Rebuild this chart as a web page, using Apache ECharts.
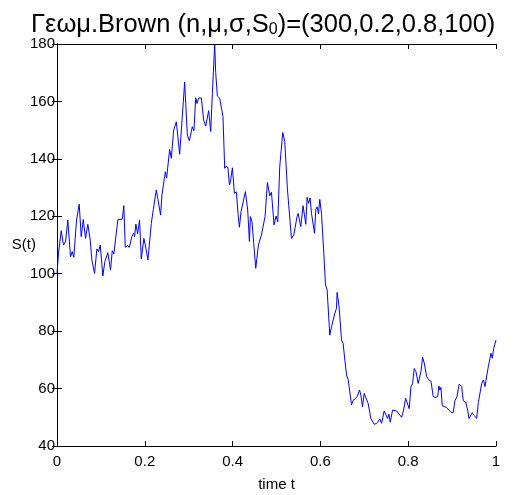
<!DOCTYPE html>
<html>
<head>
<meta charset="utf-8">
<script src="https://cdn.jsdelivr.net/npm/echarts@6/dist/echarts.min.js"></script>
<style>html,body{margin:0;padding:0;background:#fff;}#c{width:515px;height:495px;}</style>
</head>
<body>
<div id="c"></div>
<script>
// time values
var times = [0,0.0034,0.0096,0.0148,0.0194,0.0246,0.0308,0.0347,0.0383,0.0445,0.0506,0.0552,0.0598,0.065,0.0702,0.0757,0.0794,0.0855,0.0908,0.0946,0.0985,0.1044,0.109,0.1129,0.1158,0.122,0.1259,0.1295,0.1334,0.1387,0.1425,0.1487,0.1523,0.1555,0.1601,0.1647,0.1706,0.1745,0.1767,0.1797,0.1836,0.1881,0.192,0.1979,0.2025,0.2071,0.2116,0.2148,0.2194,0.2262,0.2299,0.2344,0.236,0.239,0.2429,0.2468,0.2497,0.2527,0.2566,0.2604,0.2657,0.268,0.2718,0.2794,0.2832,0.2908,0.2969,0.3015,0.3083,0.312,0.3159,0.3188,0.3227,0.3288,
0.3341,0.3387,0.3416,0.3455,0.3501,0.3539,0.3592,0.3615,0.3653,0.3706,0.3745,0.3781,0.382,0.3859,0.3895,0.3927,0.395,0.3995,0.4041,0.4087,0.4123,0.4155,0.4192,0.4237,0.4292,0.4344,0.4383,0.4406,0.4442,0.4481,0.4527,0.4588,0.4618,0.4657,0.4693,0.4739,0.4794,0.4846,0.4885,0.4944,0.499,0.5029,0.5074,0.5143,0.5188,0.525,0.5279,0.5341,0.5393,0.5432,0.5469,0.5492,0.5553,0.5605,0.5644,0.5667,0.5697,0.5729,0.5765,0.5797,0.5827,0.5866,0.5895,0.5925,0.5957,0.5986,0.6025,0.6078,0.6116,0.6153,0.6214,0.6253,0.629,0.6329,0.6367,0.6381,0.6426,0.6481,0.6518,0.6557,
0.6595,0.6632,0.6709,0.6746,0.68,0.6837,0.686,0.6892,0.6921,0.696,0.6997,0.7035,0.7088,0.7149,0.7188,0.7225,0.728,0.7316,0.7355,0.7394,0.7453,0.7485,0.753,0.756,0.759,0.7644,0.7681,0.7736,0.7772,0.785,0.7895,0.7941,0.7986,0.8023,0.8062,0.81,0.8137,0.8176,0.8228,0.829,0.8328,0.8365,0.842,0.8472,0.8518,0.857,0.8625,0.8671,0.87,0.8723,0.8746,0.8776,0.8821,0.8876,0.8928,0.8974,0.9026,0.9065,0.911,0.9163,0.9218,0.9255,0.9309,0.9355,0.9384,0.943,0.946,0.9505,0.956,0.9597,0.9635,0.9674,0.9711,0.975,0.9788,0.9825,0.9863,0.9886,0.9916,0.9948,1.0];
// S(t) values
var values = [100,107.1,115,110,111.1,118.7,105.9,107.7,105.7,118.7,124.2,112.9,118.9,112.3,117.2,111.7,104.8,100.1,108.6,107.7,110,99.2,104.2,104,107.3,101.3,108,106.9,107.1,118.9,119.4,119,123.7,109.2,109.8,109.2,112.9,114.2,112.9,117.3,113.9,118.7,105.1,112.3,108.9,104.8,104.5,117.5,122.4,129.2,125.9,125.7,120.4,127.4,128,135.5,133.3,133.8,143.3,140.2,150,150,152.9,141.6,141.9,166.7,148.3,146.3,151.2,149.8,161.3,159.3,161.2,161.2,
153.5,151.4,151.6,156.8,149.5,162.8,179.7,170,161.9,161.1,161.7,154.7,136.7,137.5,136.8,130.9,132,136.9,128,128.5,121,116.2,121.6,122.2,128.6,122.2,111.2,119.9,118.1,110.6,101.9,110,109.5,113.5,113.5,119.9,131.8,127.1,128.4,117,120.1,118.1,137.3,149.2,146,129.2,128.7,112.3,113.5,113.5,119.9,121,116.4,123.7,123.4,117.2,126.6,124.5,126.4,121,120.4,114.1,122.4,123.3,120.8,125.9,121,107.1,96.1,94.4,78.6,81.5,81.3,86.2,88,93.5,88.5,76.9,75.7,69.9,
64.7,63.2,54.3,55.9,56.5,57.2,56.6,59.5,57.8,53.7,58.3,58.6,54.8,49.6,49.6,47.6,47.8,48.3,49.4,47.9,52.2,52,49.6,51.1,48.3,52.5,52,52.2,51.7,50,52.5,56.6,56.3,53,60.6,61.7,67,65.9,61.8,65.9,70.9,68.9,64.2,63,62.6,57.2,56.9,57.2,60.9,59.5,60.4,54,53.7,53.4,52.5,51.7,51.7,55.8,57.2,61.6,60.7,55.8,55.3,52.5,49.6,50.8,51.6,50.6,49.6,55.1,55.4,61.8,63,60.7,64.4,67.6,68.2,72.3,70.6,74,76.9];
var xTicks = [0, 0.2, 0.4, 0.6, 0.8, 1];
var yTicks = [40, 60, 80, 100, 120, 140, 160, 180];

var pts = [];
for (var i = 0; i < times.length && i < values.length; i++) pts.push([times[i], values[i]]);

var FONT = '"Liberation Sans", Arial, sans-serif';
var chart = echarts.init(document.getElementById('c'), null, {renderer: 'canvas'});
var axisCommon = {
  axisLine: {show: true, lineStyle: {color: '#000', width: 1}},
  axisTick: {show: true, inside: true, length: 5, lineStyle: {color: '#000'}},
  splitLine: {show: false}
};
chart.setOption({
  animation: false,
  backgroundColor: '#fff',
  title: {
    text: '{a|Γεωμ.Brown (n,μ,σ,S}{s|0}{a|)=(300,0.2,0.8,100)}',
    left: 26, top: 6,
    textStyle: {
      fontWeight: 'normal',
      rich: {
        a: {fontFamily: FONT, fontSize: 25.5, fontWeight: 'normal', color: '#000'},
        s: {fontFamily: FONT, fontSize: 16, fontWeight: 'normal', color: '#000', padding: [11, 0, 0, 0]}
      }
    }
  },
  grid: {left: 57, top: 44, right: 19, bottom: 49, containLabel: false, outerBoundsMode: 'none'},
  xAxis: [
    Object.assign({type: 'value', position: 'bottom', min: xTicks[0], max: xTicks[xTicks.length - 1], interval: 0.2,
      name: 'time t', nameLocation: 'middle', nameGap: 31, nameMoveOverlap: false,
      nameTextStyle: {fontFamily: FONT, fontSize: 15, color: '#000'},
      axisLabel: {fontFamily: FONT, fontSize: 15, color: '#000', margin: 8}}, axisCommon),
    Object.assign({type: 'value', position: 'top', min: xTicks[0], max: xTicks[xTicks.length - 1], interval: 0.2,
      axisLabel: {show: false}}, axisCommon)
  ],
  yAxis: [
    Object.assign({type: 'value', position: 'left', min: yTicks[0], max: yTicks[yTicks.length - 1], interval: 20,
      name: 'S(t)', nameLocation: 'middle', nameGap: 21, nameRotate: 0, nameMoveOverlap: false,
      nameTextStyle: {fontFamily: FONT, fontSize: 15, color: '#000', padding: [0, 0, 16, 0]},
      axisLabel: {fontFamily: FONT, fontSize: 15, color: '#000', margin: 2}}, axisCommon),
    Object.assign({type: 'value', position: 'right', min: yTicks[0], max: yTicks[yTicks.length - 1], interval: 20,
      axisLabel: {show: false}}, axisCommon)
  ],
  series: [{
    type: 'line',
    data: pts,
    showSymbol: false,
    symbol: 'none',
    lineStyle: {color: '#0000ff', width: 1},
    xAxisIndex: 0, yAxisIndex: 0
  }]
});
</script>
</body>
</html>
